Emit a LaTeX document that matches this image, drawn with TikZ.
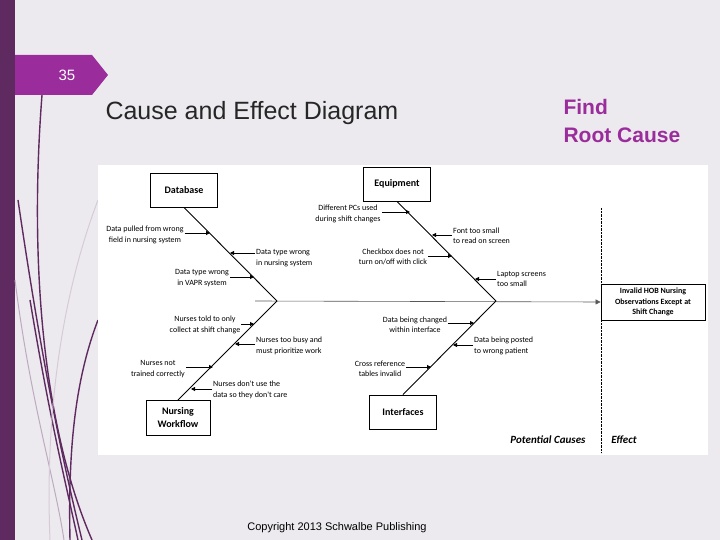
\documentclass[tikz,border=0pt]{standalone}
\usepackage{fontspec}
\setmainfont{Liberation Sans}
\newfontfamily\chartfont{Carlito}
\usetikzlibrary{arrows.meta}
\definecolor{barpurple}{HTML}{5E2A60}
\definecolor{tabmag}{HTML}{9A2C9C}
\definecolor{bgc}{HTML}{ECEAEF}
\definecolor{findc}{HTML}{9B2C9B}
\begin{document}
\begin{tikzpicture}[x=1pt,y=-1pt,
  lbl/.style={font=\chartfont\fontsize{8}{10.5}\selectfont,align=center,inner sep=1pt},
  lbll/.style={lbl,align=left,anchor=west},
  box/.style={draw,thick,fill=white,font=\chartfont\bfseries\fontsize{10}{13}\selectfont,align=center,minimum width=67pt,minimum height=34pt},
  bone/.style={line width=0.9pt},
  sub/.style={line width=0.9pt,-{Triangle[length=4pt,width=4pt]}}]
\useasboundingbox (0,0) rectangle (720,540);
\fill[bgc] (0,0) rectangle (720,540);
\fill[barpurple] (0,0) rectangle (15,540);
% decorative curves
\begin{scope}[barpurple,line width=1.4pt]
\draw (42,95) .. controls (30,250) and (40,420) .. (92,540);
\draw (18,200) .. controls (40,350) and (60,450) .. (82,540);
\draw (30,300) .. controls (50,420) and (65,480) .. (78,540);
\draw (98,320) .. controls (75,380) and (68,450) .. (70,540);
\draw[barpurple!40,line width=1pt] (15,280) .. controls (30,400) and (55,480) .. (64,540);
\draw[barpurple!25,line width=1pt] (98,200) .. controls (60,300) and (45,420) .. (50,540);
\end{scope}
\fill[tabmag] (15,55) -- (92,55) -- (108,75) -- (92,95) -- (15,95) -- cycle;
\node[white,font=\fontsize{15}{18}\selectfont] (num) at (67,75) {35};
\node[anchor=west,font=\fontsize{25}{30}\selectfont,text=black!85] (title) at (102,113) {Cause and Effect Diagram};
\node[anchor=west,align=left,font=\bfseries\fontsize{21}{28}\selectfont,text=findc] (find) at (560,121) {Find\\Root Cause};
\node[font=\fontsize{11}{13}\selectfont] (copy) at (337,528) {Copyright 2013 Schwalbe Publishing};
% panel
\fill[white] (98,165) rectangle (708,455);
\node[box] (db) at (184,190) {Database};
\node[box] (eq) at (397,184) {Equipment};
\node[box,minimum width=64pt,minimum height=35pt] (nw) at (178,418) {Nursing\\Workflow};
\node[box] (inf) at (403,412) {Interfaces};
\node[draw,thick,fill=white,font=\chartfont\bfseries\fontsize{8}{10.5}\selectfont,align=center,minimum width=104pt,minimum height=36pt,inner sep=1pt] (eff) at (653,302) {Invalid HOB Nursing\\Observations Except at\\Shift Change};
\draw[densely dotted] (601,208) -- (601,453);
\node[font=\chartfont\bfseries\itshape\fontsize{11}{13}\selectfont] (pc) at (548,440) {Potential Causes};
\node[font=\chartfont\bfseries\itshape\fontsize{11}{13}\selectfont] (ef) at (624,440) {Effect};
% spine
\coordinate (s0) at (255,301);
\coordinate (j1) at (277,301);
\coordinate (j2) at (496,301);
\draw[line width=0.6pt,gray!70!black,-{Triangle[length=5pt,width=5pt]}] (s0) -- (eff.west);
\draw[bone] (db.south) -- (j1);
\draw[bone] (nw.north) -- (j1);
\draw[bone] (eq.south) -- (j2);
\draw[bone] (inf.north) -- (j2);
% database causes
\node[lbl] (c1) at (145,235) {Data pulled from wrong\\field in nursing system};
\coordinate (b1) at (210,233); \draw[sub] (c1.east|-b1) -- (b1);
\node[lbll] (c2) at (255,258) {Data type wrong\\in nursing system};
\coordinate (b2) at (230,253); \draw[sub] (c2.west|-b2) -- (b2);
\node[lbl] (c3) at (202,278) {Data type wrong\\in VAPR system};
\coordinate (b3) at (254,277); \draw[sub] (c3.east|-b3) -- (b3);
% nursing
\node[lbl] (c4) at (205,325) {Nurses told to only\\collect at shift change};
\coordinate (b4) at (254,324); \draw[sub] (c4.east|-b4) -- (b4);
\node[lbll] (c5) at (255,346) {Nurses too busy and\\must prioritize work};
\coordinate (b5) at (235,344); \draw[sub] (c5.west|-b5) -- (b5);
\node[lbl] (c6) at (158,369) {Nurses not\\trained correctly};
\coordinate (b6) at (213,367); \draw[sub] (c6.east|-b6) -- (b6);
\node[lbll] (c7) at (212,390) {Nurses don't use the\\data so they don't care};
\coordinate (b7) at (191,389); \draw[sub] (c7.west|-b7) -- (b7);
% equipment
\node[lbl] (c8) at (348,214) {Different PCs used\\during shift changes};
\coordinate (b8) at (410,212); \draw[sub] (c8.east|-b8) -- (b8);
\node[lbll] (c9) at (452,236) {Font too small\\to read on screen};
\coordinate (b9) at (432,235); \draw[sub] (c9.west|-b9) -- (b9);
\node[lbl] (c10) at (393,257) {Checkbox does not\\turn on/off with click};
\coordinate (b10) at (452,256); \draw[sub] (c10.east|-b10) -- (b10);
\node[lbll] (c11) at (496,279) {Laptop screens\\too small};
\coordinate (b11) at (475,279); \draw[sub] (c11.west|-b11) -- (b11);
% interfaces
\node[lbl] (c12) at (415,325) {Data being changed\\within interface};
\coordinate (b12) at (474,323); \draw[sub] (c12.east|-b12) -- (b12);
\node[lbll] (c13) at (473,346) {Data being posted\\to wrong patient};
\coordinate (b13) at (453,345); \draw[sub] (c13.west|-b13) -- (b13);
\node[lbl] (c14) at (380,369) {Cross reference\\tables invalid};
\coordinate (b14) at (431,367); \draw[sub] (c14.east|-b14) -- (b14);
\end{tikzpicture}
\end{document}
